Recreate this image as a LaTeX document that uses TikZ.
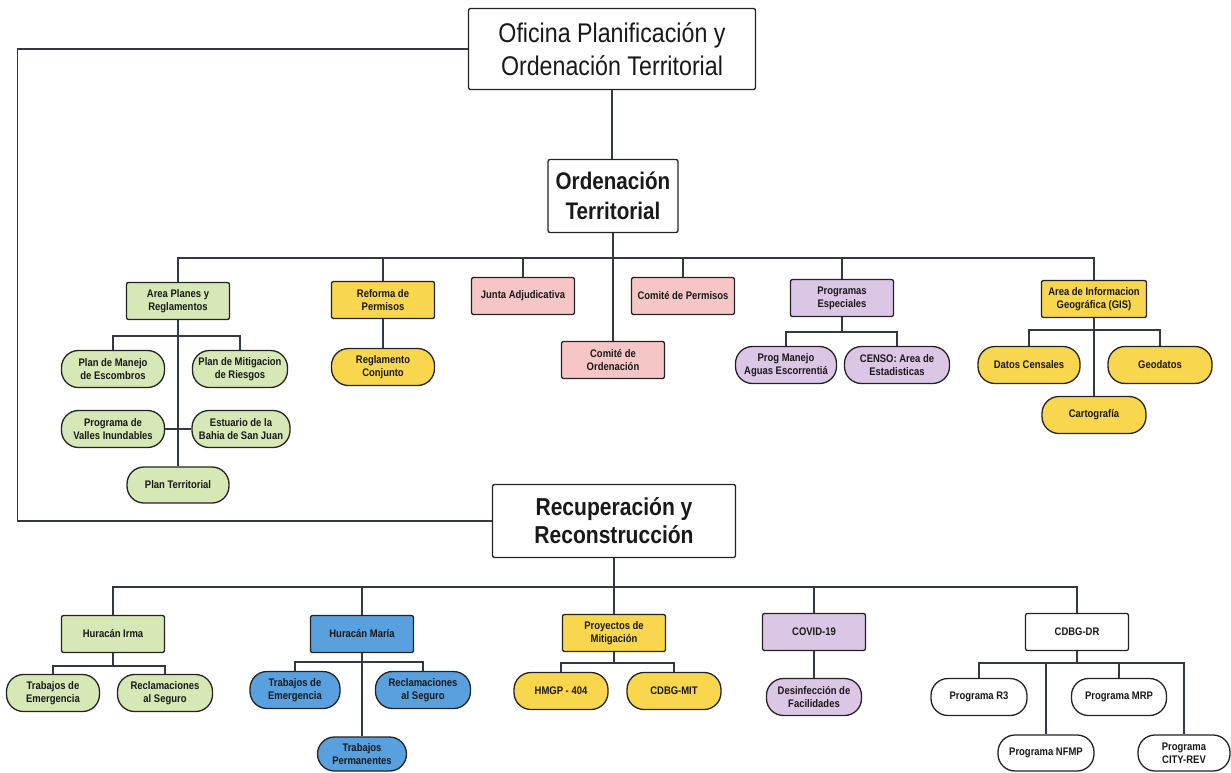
\documentclass[tikz,border=0pt]{standalone}
\usepackage{fontspec}
\setmainfont{Liberation Sans}
\newfontfamily\lblfont[FakeStretch=0.86]{Liberation Sans}
\newfontfamily\headfont[FakeStretch=0.86]{Liberation Sans}
\usetikzlibrary{positioning}

\definecolor{linea}{RGB}{50,56,68}
\definecolor{borde}{RGB}{35,35,35}
\definecolor{verde}{RGB}{214,232,182}
\definecolor{amarillo}{RGB}{248,214,78}
\definecolor{rosa}{RGB}{246,198,198}
\definecolor{lila}{RGB}{220,198,230}
\definecolor{azul}{RGB}{88,160,222}

\tikzset{
  box/.style={draw=borde, line width=1.3pt, rounded corners=2pt, align=center,
    minimum width=103pt, minimum height=37pt, inner sep=1pt, text=black!90,
    font=\lblfont\bfseries\fontsize{11}{12.8}\selectfont},
  pill/.style={box, rounded corners=17pt},
  conn/.style={draw=linea, line width=1.1pt},
}

\begin{document}
\begin{tikzpicture}[x=1pt,y=-1pt]
\useasboundingbox (0,0) rectangle (1231,772);

% cabeceras
\node[box, minimum width=287pt, minimum height=81pt, fill=white,
  font=\headfont\fontsize{27}{33}\selectfont] (opt) at (612,49) {Oficina Planificación y\\Ordenación Territorial};
\node[box, minimum width=130pt, minimum height=73pt, fill=white,
  font=\headfont\bfseries\fontsize{24}{30}\selectfont] (ot) at (613,196) {Ordenación\\Territorial};
\node[box, minimum width=243pt, minimum height=73pt, fill=white,
  font=\headfont\bfseries\fontsize{24.5}{28}\selectfont] (rr) at (614,521) {Recuperación y\\Reconstrucción};

% Ordenacion Territorial
\node[box, fill=verde] (apr) at (178,301) {Area Planes y\\Reglamentos};
\node[box, fill=amarillo] (rdp) at (383,300) {Reforma de\\Permisos};
\node[box, fill=rosa] (ja) at (523,296) {Junta Adjudicativa};
\node[box, fill=rosa] (cp) at (683,296) {Comité de Permisos};
\node[box, fill=rosa] (cord) at (613,360) {Comité de\\Ordenación};
\node[box, fill=lila] (pe) at (842,298) {Programas\\Especiales};
\node[box, fill=amarillo, minimum width=105pt] (gis) at (1094,299) {Area de Informacion\\Geográfica (GIS)};

\node[pill, fill=verde] (pme) at (113,369) {Plan de Manejo\\de Escombros};
\node[pill, fill=verde, minimum width=95pt] (pmr) at (240,369) {Plan de Mitigacion\\de Riesgos};
\node[pill, fill=verde] (pvi) at (113,429) {Programa de\\Valles Inundables};
\node[pill, fill=verde, minimum width=98pt] (ebs) at (241,429) {Estuario de la\\Bahia de San Juan};
\node[pill, fill=verde, minimum width=102pt, minimum height=36pt] (pt) at (178,485) {Plan Territorial};
\node[pill, fill=amarillo] (rc) at (383,367) {Reglamento\\Conjunto};
\node[pill, fill=lila, minimum width=101pt] (pma) at (786,365) {Prog Manejo\\Aguas Escorrentiá};
\node[pill, fill=lila, minimum width=105pt] (cae) at (897,365) {CENSO: Area de\\Estadisticas};
\node[pill, fill=amarillo, minimum width=102pt] (dc) at (1029,365) {Datos Censales};
\node[pill, fill=amarillo, minimum width=104pt] (geo) at (1160,365) {Geodatos};
\node[pill, fill=amarillo, minimum width=104pt] (car) at (1094,415) {Cartografía};

% Recuperacion y Reconstruccion
\node[box, fill=verde] (hi) at (113,634) {Huracán Irma};
\node[box, fill=azul] (hm) at (362,634) {Huracán María};
\node[box, fill=amarillo] (pmi) at (614,633) {Proyectos de\\Mitigación};
\node[box, fill=lila] (cov) at (814,632) {COVID-19};
\node[box, fill=white] (cdr) at (1077,632) {CDBG-DR};

\node[pill, fill=verde, minimum width=93pt] (te1) at (53,693) {Trabajos de\\Emergencia};
\node[pill, fill=verde, minimum width=95pt] (rs1) at (165,693) {Reclamaciones\\al Seguro};
\node[pill, fill=azul, minimum width=90pt] (te2) at (295,690) {Trabajos de\\Emergencia};
\node[pill, fill=azul, minimum width=95pt] (rs2) at (423,690) {Reclamaciones\\al Seguro};
\node[pill, fill=azul, minimum width=89pt, minimum height=34pt] (tp) at (362,754) {Trabajos\\Permanentes};
\node[pill, fill=amarillo, minimum width=94pt] (hmg) at (561,691) {HMGP - 404};
\node[pill, fill=amarillo, minimum width=94pt] (cmit) at (674,691) {CDBG-MIT};
\node[pill, fill=lila, minimum width=95pt] (dsf) at (814,697) {Desinfección de\\Facilidades};
\node[pill, fill=white, minimum width=96pt] (r3) at (979,697) {Programa R3};
\node[pill, fill=white, minimum width=95pt] (mrp) at (1119,697) {Programa MRP};
\node[pill, fill=white, minimum width=96pt, minimum height=36pt] (nfmp) at (1046,753) {Programa NFMP};
\node[pill, fill=white, minimum width=92pt, minimum height=36pt] (city) at (1184,753) {Programa\\CITY-REV};

\coordinate (b1) at (613,258);
\coordinate (b2) at (178,336);
\coordinate (b3) at (842,332);
\coordinate (b4) at (1094,330);
\coordinate (b5) at (614,587);
\coordinate (b6) at (113,666);
\coordinate (b7) at (362,662);
\coordinate (b8) at (614,663);
\coordinate (b9) at (1077,663);

\draw[conn] (opt.south) -- (opt.south |- ot.north);
\draw[conn] (opt.west) -- ++(-450,0) |- (rr.west);
\draw[conn] (ot) -- (cord);
\draw[conn] (apr.north) |- (b1) -| (gis.north);
\foreach \n in {rdp,ja,cp,pe}
  \draw[conn] (\n.north) -- (\n.north |- b1);

\draw[conn] (apr) -- (pt);
\draw[conn] (pme.north) |- (b2) -| (pmr.north);
\draw[conn] (pvi) -- (ebs);
\draw[conn] (rdp) -- (rc);
\draw[conn] (pe) -- (b3);
\draw[conn] (pma.north) |- (b3) -| (cae.north);
\draw[conn] (gis) -- (car);
\draw[conn] (dc.north) |- (b4) -| (geo.north);

\draw[conn] (rr) -- (b5);
\draw[conn] (hi.north) |- (b5) -| (cdr.north);
\foreach \n in {hm,pmi,cov}
  \draw[conn] (\n.north) -- (\n.north |- b5);
\draw[conn] (hi) -- (b6);
\draw[conn] (te1.north) |- (b6) -| (rs1.north);
\draw[conn] (hm) -- (tp);
\draw[conn] (te2.north) |- (b7) -| (rs2.north);
\draw[conn] (pmi) -- (b8);
\draw[conn] (hmg.north) |- (b8) -| (cmit.north);
\draw[conn] (cov) -- (dsf);
\draw[conn] (cdr) -- (b9);
\draw[conn] (r3.north) |- (b9) -| (city.north);
\draw[conn] (nfmp.north) -- (nfmp.north |- b9);
\draw[conn] (mrp.north) -- (mrp.north |- b9);

\end{tikzpicture}
\end{document}
